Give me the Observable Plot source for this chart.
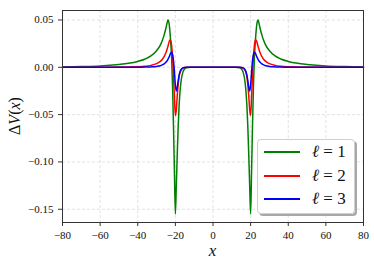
<!DOCTYPE html>
<html><head><meta charset="utf-8">
<script src="https://cdn.jsdelivr.net/npm/d3@7"></script>
<script src="https://cdn.jsdelivr.net/npm/@observablehq/plot@0.6"></script>
<style>
body{margin:0;background:#fff;}
#wrap{position:relative;width:374px;height:265px;font-family:"Liberation Serif",serif;}
#wrap svg, #wrap svg text{font-family:"Liberation Serif",serif !important;}
#legend{position:absolute;left:257px;top:139px;width:98px;height:75px;border:1px solid #cfcfcf;border-radius:4px;background:rgba(255,255,255,0.9);box-shadow:2px 2px 0 #a8a8a8;box-sizing:border-box;}
.row{position:absolute;left:0;height:20px;width:100%;}
.sw{position:absolute;left:6px;top:9px;width:36px;height:0;border-top:2px solid;}
.lb{position:absolute;left:54px;top:0;font-size:17px;line-height:20px;font-family:"Liberation Serif",serif;white-space:nowrap;color:#111;}
</style></head>
<body><div id="wrap"><div id="legend"></div></div>
<script>
const xs = [-80,-70,-60,-50,-45,-40,-36,-33,-30,-28,-27,-26,-25,-24.5,-24,-23.5,-23,-22.5,-22,-21.5,-21,-20.5,-20,-19.5,-19,-18.5,-18,-17.5,-17,-16,-15,-14,-12,-10,0,
  10,12,14,15,16,17,17.5,18,18.5,19,19.5,20,20.5,21,21.5,22,22.5,23,23.5,24,24.5,25,26,27,28,30,33,36,40,45,50,60,70,80];
const green = [0.0003,0.0007,0.0014,0.0030,0.0042,0.0062,0.0088,0.0120,0.0175,0.0235,0.0280,0.0340,0.0415,0.0460,0.0500,0.0480,0.0400,0.0270,0.0100,-0.0200,-0.0620,-0.1100,-0.1550,-0.1250,-0.0920,-0.0620,-0.0400,-0.0250,-0.0150,-0.0050,-0.0015,-0.0004,0,0,0,
  0,0,-0.0004,-0.0015,-0.0050,-0.0150,-0.0250,-0.0400,-0.0620,-0.0920,-0.1250,-0.1550,-0.1100,-0.0620,-0.0200,0.0100,0.0270,0.0400,0.0480,0.0500,0.0460,0.0415,0.0340,0.0280,0.0235,0.0175,0.0120,0.0088,0.0062,0.0042,0.0030,0.0014,0.0007,0.0003];
const red = [0,0,0.0001,0.0002,0.0004,0.0006,0.0011,0.0020,0.0038,0.0062,0.0082,0.0112,0.0155,0.0185,0.0218,0.0255,0.0285,0.0285,0.0230,0.0110,-0.0080,-0.0320,-0.0510,-0.0450,-0.0300,-0.0180,-0.0100,-0.0055,-0.0030,-0.0008,-0.0002,0,0,0,0,
  0,0,0,-0.0002,-0.0008,-0.0030,-0.0055,-0.0100,-0.0180,-0.0300,-0.0450,-0.0510,-0.0320,-0.0080,0.0110,0.0230,0.0285,0.0285,0.0255,0.0218,0.0185,0.0155,0.0112,0.0082,0.0062,0.0038,0.0020,0.0011,0.0006,0.0004,0.0002,0.0001,0,0];
const blue = [0,0,0,0,0,0.0001,0.0002,0.0004,0.0009,0.0017,0.0025,0.0036,0.0053,0.0066,0.0082,0.0102,0.0125,0.0150,0.0160,0.0135,0.0070,-0.0050,-0.0190,-0.0250,-0.0210,-0.0140,-0.0080,-0.0045,-0.0025,-0.0007,-0.0002,0,0,0,0,
  0,0,0,-0.0002,-0.0007,-0.0025,-0.0045,-0.0080,-0.0140,-0.0210,-0.0250,-0.0190,-0.0050,0.0070,0.0135,0.0160,0.0150,0.0125,0.0102,0.0082,0.0066,0.0053,0.0036,0.0025,0.0017,0.0009,0.0004,0.0002,0.0001,0,0,0,0,0];
const seriesNames = ["ℓ = 1","ℓ = 2","ℓ = 3"];
const seriesColors = ["#008000","#ff0000","#0000ff"];
const xTicks = [-80,-60,-40,-20,0,20,40,60,80];
const yTicks = [-0.15,-0.10,-0.05,0.00,0.05];

const rows = [];
[green, red, blue].forEach((arr, k) => arr.forEach((v, i) => rows.push({x: xs[i], y: v, s: seriesNames[k]})));

const chart = Plot.plot({
  width: 374, height: 265,
  marginLeft: 62, marginRight: 11, marginTop: 10, marginBottom: 43,
  style: {fontFamily: "'Liberation Serif', serif", fontSize: "11px", color: "#111", background: "#fff"},
  x: {domain: [-80, 80]},
  y: {domain: [-0.164, 0.06]},
  color: {domain: seriesNames, range: seriesColors},
  marks: [
    Plot.gridX(xTicks, {stroke: "#b0b0b0", strokeOpacity: 0.35, strokeDasharray: "3,2"}),
    Plot.gridY(yTicks, {stroke: "#b0b0b0", strokeOpacity: 0.35, strokeDasharray: "3,2"}),
    Plot.line(rows, {x: "x", y: "y", z: "s", stroke: "s", strokeWidth: 1.5, curve: "monotone-x"}),
    Plot.frame({stroke: "#333", strokeWidth: 1}),
    Plot.axisX(xTicks, {tickSize: 4, tickPadding: 5, tickFormat: d3.format("d"), label: null, stroke: "#333", fill: "#111"}),
    Plot.axisY(yTicks, {tickSize: 4, tickPadding: 5, tickFormat: d3.format(".2f"), label: null, stroke: "#333", fill: "#111"})
  ]
});
document.getElementById("wrap").prepend(chart);

const svg = d3.select(chart);
const yl = svg.append("text").attr("transform", "translate(20,116) rotate(-90)")
  .attr("text-anchor", "middle").attr("font-size", 16).attr("fill", "#111");
yl.append("tspan").text("Δ");
yl.append("tspan").attr("font-style", "italic").text("V");
yl.append("tspan").text("(");
yl.append("tspan").attr("font-style", "italic").text("x");
yl.append("tspan").text(")");
svg.append("text").attr("x", 212.5).attr("y", 256).attr("text-anchor", "middle")
  .attr("font-size", 17).attr("font-style", "italic").attr("fill", "#111").text("x");

const lg = document.getElementById("legend");
seriesNames.forEach((n, k) => {
  const r = document.createElement("div");
  r.className = "row"; r.style.top = (2 + k * 23.5) + "px";
  const sw = document.createElement("div"); sw.className = "sw"; sw.style.borderColor = seriesColors[k];
  const lb = document.createElement("div"); lb.className = "lb";
  lb.innerHTML = '<i>ℓ</i> = ' + n.split("= ")[1];
  r.appendChild(sw); r.appendChild(lb); lg.appendChild(r);
});
</script></body></html>
